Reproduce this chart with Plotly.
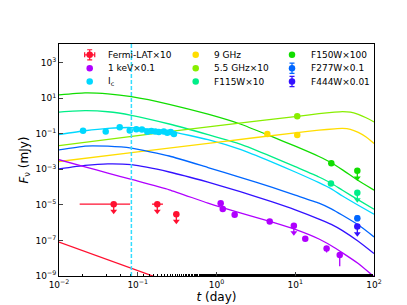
import plotly.graph_objects as go

# ---------------- data ----------------
# model curves: time (day) and log10 flux (mJy)
model_t = [0.01, 0.0214, 0.0417, 0.0832, 0.251, 0.78, 2.0, 5.0, 10.0, 20.0, 28.7, 39.8, 63.1, 100.0]
f150w_model_logF = [1.185, 1.30, 1.25, 1.09, 0.66, 0.10, -0.45, -1.15, -1.70, -2.28, -2.63, -3.03, -3.63, -4.17]
f115w_model_logF = [0.22, 0.30, 0.24, 0.04, -0.45, -1.05, -1.58, -2.28, -2.85, -3.43, -3.78, -4.18, -4.72, -5.24]
ic_model_logF = [-1.04, -0.83, -0.70, -0.65, -0.86, -1.33, -1.88, -2.58, -3.15, -3.75, -4.10, -4.50, -5.02, -5.52]
f277w_model_logF = [-1.91, -1.69, -1.70, -1.81, -2.25, -2.90, -3.45, -4.00, -4.45, -4.90, -5.22, -5.58, -6.12, -6.80]
f444w_model_logF = [-2.98, -2.78, -2.69, -2.74, -3.15, -3.72, -4.25, -4.82, -5.28, -5.80, -6.10, -6.45, -7.05, -7.74]
xray_model_logF = [-2.46, -2.86, -3.21, -3.57, -4.15, -4.90, -5.45, -5.95, -6.38, -6.92, -7.30, -7.70, -8.30, -9.04]

radio_t = [0.01, 0.1, 1.0, 10.6, 20.0, 31.6, 39.8, 50.1, 63.1, 79.4, 100.0]
radio55_model_logF = [-1.67, -1.11, -0.55, -0.02, 0.13, 0.22, 0.25, 0.22, 0.09, -0.10, -0.33]
radio9_model_logF = [-2.56, -2.02, -1.48, -0.93, -0.80, -0.72, -0.70, -0.75, -0.92, -1.18, -1.54]

fermi_model_t = [0.01, 0.164]
fermi_model_logF = [-7.09, -9.04]
vline_t = 0.083

# observations
fermi_t = [0.0495, 0.177, 0.309]
fermi_F = [1.1e-5, 1.1e-5, 3.0e-6]
fermi_tlo = [0.0183, 0.152, 0.283]
fermi_thi = [0.080, 0.209, 0.334]

xray_t = [1.13, 1.20, 1.70, 4.74, 9.6, 13.4, 25.0, 36.7]
xray_F = [1.23e-5, 5.8e-6, 2.75e-6, 1.15e-6, 6.8e-7, 1.23e-7, 3.5e-8, 1.5e-8]
xray_Flo = [0, 0, 0, 0, 0, 0, 1.4e-8, 1.15e-8]
xray_Fhi = [0, 0, 0, 0, 0, 0, 1.4e-8, 0.7e-8]
xray_uplim = [False, False, False, False, True, False, False, False]

ic_t = [0.0202, 0.0392, 0.0590, 0.0791, 0.0959, 0.113, 0.132, 0.149, 0.167, 0.185, 0.214, 0.237, 0.262, 0.288]
ic_F = [0.147, 0.134, 0.235, 0.152, 0.182, 0.173, 0.129, 0.141, 0.134, 0.124, 0.134, 0.114, 0.124, 0.096]

radio9_t = [4.42, 10.6]
radio9_F = [0.096, 0.085]
radio55_t = [10.6]
radio55_F = [0.96]

f115w_t = [28.4, 61.4]
f115w_F = [1.6e-4, 4.8e-5]
f115w_uplim = [False, True]
f150w_t = [28.7, 61.4]
f150w_F = [2.2e-3, 8.2e-4]
f150w_uplim = [False, True]
f277w_t = [61.4]
f277w_F = [1.8e-6]
f277w_err = [0.5e-6]
f444w_t = [61.4]
f444w_F = [6.0e-7]
f444w_uplim = [True]

legend_names = [["Fermi-LAT×10", "1 keV×0.1", "I<sub>c</sub>"],
                ["9 GHz", "5.5 GHz×10", "F115W×10"],
                ["F150W×100", "F277W×0.1", "F444W×0.01"]]

# ---------------- style ----------------
C = {
    "fermi": "#ff1030", "xray": "#b000ff", "ic": "#00d8ff",
    "r9": "#ffdd00", "r55": "#88ee00", "f115": "#00ee88",
    "f150": "#11dd00", "f277": "#0066ff", "f444": "#3311ff",
}
legend_colors = [["fermi", "xray", "ic"], ["r9", "r55", "f115"], ["f150", "f277", "f444"]]
legend_caps = [[True, False, False], [False, False, False], [False, True, True]]
UL = 0.4  # arrow length factor for upper limits

fig = go.Figure()


def model(t, logF, color):
    fig.add_trace(go.Scatter(x=t, y=[10 ** v for v in logF], mode="lines",
                             line=dict(color=color, width=1.3, shape="spline", smoothing=0.5),
                             showlegend=False, hoverinfo="skip"))


model(model_t, f150w_model_logF, C["f150"])
model(model_t, f115w_model_logF, C["f115"])
model(model_t, ic_model_logF, C["ic"])
model(radio_t, radio55_model_logF, C["r55"])
model(radio_t, radio9_model_logF, C["r9"])
model(model_t, f277w_model_logF, C["f277"])
model(model_t, f444w_model_logF, C["f444"])
model(model_t, xray_model_logF, C["xray"])
model(fermi_model_t, fermi_model_logF, C["fermi"])


def arrows(t, F, flags, color):
    xs = [a for a, f in zip(t, flags) if f]
    ys = [b * UL for b, f in zip(F, flags) if f]
    if xs:
        fig.add_trace(go.Scatter(x=xs, y=ys, mode="markers", showlegend=False, hoverinfo="skip",
                                 marker=dict(symbol="triangle-down", size=6, color=color)))


def points(name, t, F, color, flags=None, elo=None, ehi=None, xlo=None, xhi=None, cap=0):
    flags = flags or [False] * len(t)
    minus = []
    plus = []
    for i, (f, fl) in enumerate(zip(F, flags)):
        if fl:
            minus.append(f - f * UL)
            plus.append(0)
        else:
            minus.append(elo[i] if elo else 0)
            plus.append(ehi[i] if ehi else 0)
    tr = dict(x=t, y=F, mode="markers", name=name, showlegend=False,
              marker=dict(symbol="circle", size=6.5, color=color),
              error_y=dict(type="data", symmetric=False, array=plus, arrayminus=minus,
                           color=color, thickness=1.3, width=cap))
    if xlo is not None:
        tr["error_x"] = dict(type="data", symmetric=False,
                             array=[h - a for h, a in zip(xhi, t)],
                             arrayminus=[a - l for a, l in zip(t, xlo)],
                             color=color, thickness=1.3, width=cap)
    fig.add_trace(go.Scatter(**tr))
    arrows(t, F, flags, color)


points("Fermi-LAT×10", fermi_t, fermi_F, C["fermi"], flags=[True, True, True],
       xlo=fermi_tlo, xhi=fermi_thi)
points("9 GHz", radio9_t, radio9_F, C["r9"])
points("F150W×100", f150w_t, f150w_F, C["f150"], flags=f150w_uplim)
points("1 keV×0.1", xray_t, xray_F, C["xray"], flags=xray_uplim, elo=xray_Flo, ehi=xray_Fhi)
points("5.5 GHz×10", radio55_t, radio55_F, C["r55"])
points("F277W×0.1", f277w_t, f277w_F, C["f277"], elo=f277w_err, ehi=f277w_err, cap=2)
points("I<sub>c</sub>", ic_t, ic_F, C["ic"])
points("F115W×10", f115w_t, f115w_F, C["f115"], flags=f115w_uplim)
points("F444W×0.01", f444w_t, f444w_F, C["f444"], flags=f444w_uplim)

fig.add_shape(type="line", xref="x", yref="paper", x0=vline_t, x1=vline_t, y0=0, y1=1,
              line=dict(color="#33ddff", width=1.5, dash="4px,2px"))

# ---------------- legend (3 columns, drawn in the plot's paper space) ----------------
W, H, ML, MB = 407, 305, 51, 34
PW, PH = W - ML - 41, H - MB - 36
col_marker_px = [81.7, 187.7, 284.0]
col_text_px = [97.5, 204.0, 300.5]
row_px = [47.0, 60.5, 74.0]
for ci in range(3):
    for ri in range(3):
        xm = (col_marker_px[ci] - ML) / PW
        yv = (H - MB - row_px[ri]) / PH
        col = C[legend_colors[ci][ri]]
        cap = legend_caps[ci][ri]
        tr = dict(x=[xm], y=[yv], mode="markers", xaxis="x2", yaxis="y2", showlegend=False,
                  hoverinfo="skip", marker=dict(symbol="circle", size=6.5, color=col))
        if cap:
            tr["error_y"] = dict(type="constant", value=0.022, color=col, thickness=1.2, width=2.5)
        if ci == 0 and ri == 0:
            tr["error_x"] = dict(type="constant", value=0.016, color=col, thickness=1.2, width=2.5)
        fig.add_trace(go.Scatter(**tr))
        fig.add_annotation(x=(col_text_px[ci] - ML) / PW, y=yv, xref="paper", yref="paper",
                           text=legend_names[ci][ri], showarrow=False, xanchor="left",
                           yanchor="middle", font=dict(size=9, color="black"))

font_family = "DejaVu Sans"
xt = [0.01, 0.1, 1, 10, 100]
xtl = ["10<sup>−2</sup>", "10<sup>−1</sup>", "10<sup>0</sup>", "10<sup>1</sup>", "10<sup>2</sup>"]
yt = [1e-9, 1e-7, 1e-5, 1e-3, 1e-1, 10, 1000]
ytl = ["10<sup>−9</sup>", "10<sup>−7</sup>", "10<sup>−5</sup>", "10<sup>−3</sup>", "10<sup>−1</sup>",
       "10<sup>1</sup>", "10<sup>3</sup>"]

fig.update_layout(
    width=W, height=H,
    margin=dict(l=ML, r=41, t=36, b=MB),
    paper_bgcolor="white", plot_bgcolor="white",
    font=dict(family=font_family, color="black", size=9),
    showlegend=False,
    xaxis=dict(type="log", range=[-2, 2], tickvals=xt, ticktext=xtl, ticks="inside",
               ticklen=4, tickwidth=1, showline=True, linecolor="black", linewidth=1,
               mirror=True, showgrid=False, zeroline=False,
               minor=dict(ticks="inside", ticklen=2, tickcolor="black", showgrid=False),
               title=dict(text="<i>t</i> (day)", font=dict(size=12), standoff=3),
               tickfont=dict(size=9)),
    yaxis=dict(type="log", range=[-9, 4.05], tickvals=yt, ticktext=ytl, ticks="inside",
               ticklen=4, tickwidth=1, showline=True, linecolor="black", linewidth=1,
               mirror=True, showgrid=False, zeroline=False,
               title=dict(text="<i>F</i><sub>ν</sub> (mJy)", font=dict(size=12), standoff=4),
               tickfont=dict(size=9)),
    xaxis2=dict(overlaying="x", range=[0, 1], visible=False, fixedrange=True),
    yaxis2=dict(overlaying="y", range=[0, 1], visible=False, fixedrange=True),
)

fig.write_html("out.html")
